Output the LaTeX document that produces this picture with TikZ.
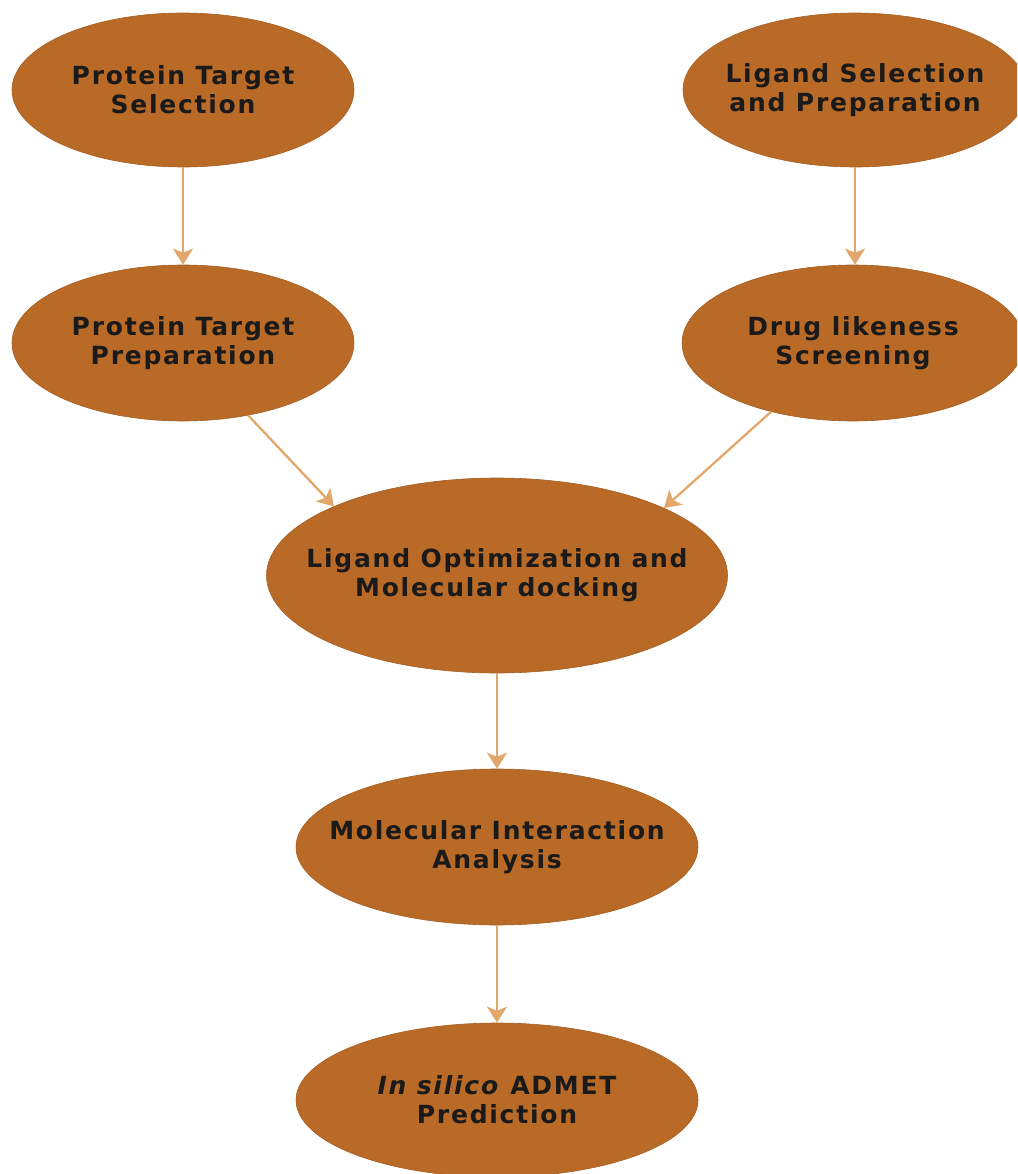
\documentclass[tikz,border=0pt]{standalone}
\usepackage{fontspec}
\setmainfont{DejaVu Sans}
\newfontfamily\labelfont[LetterSpace=7]{DejaVu Sans}
\usetikzlibrary{shapes.geometric,arrows.meta}
\definecolor{ellfill}{HTML}{B96A27}
\definecolor{arrcol}{HTML}{E2A76A}
\definecolor{txtcol}{HTML}{1A1A1A}
\tikzset{
  ell/.style={ellipse, fill=ellfill, draw=ellfill!90!black, line width=0.6pt, inner sep=0pt},
  txt/.style={align=center, text=txtcol, font=\labelfont\fontsize{25}{29}\selectfont\bfseries, inner sep=0pt},
  flow/.style={draw=arrcol, line width=2.3pt, -{Stealth[length=16pt,width=20pt,inset=4pt]}}
}
\begin{document}
\begin{tikzpicture}[x=1pt,y=-1pt]
\useasboundingbox (0,0) rectangle (1017,1174);
\begin{scope}
\clip (0,0) rectangle (1017,1174);
\node[ell, minimum width=342pt, minimum height=154pt] (pts) at (183,90) {};
\node[ell, minimum width=344pt, minimum height=154pt] (lsp) at (855,90) {};
\node[ell, minimum width=342pt, minimum height=156pt] (ptp) at (183,343) {};
\node[ell, minimum width=342pt, minimum height=156pt] (dls) at (853,343) {};
\node[ell, minimum width=461pt, minimum height=195pt] (lopt) at (497,575.5) {};
\node[ell, minimum width=402pt, minimum height=156pt] (mia) at (497,847) {};
\node[ell, minimum width=402pt, minimum height=154pt] (adm) at (497,1100) {};
\end{scope}

\node[txt] (pts-t) at (pts) {Protein Target\\Selection};
\node[txt] (lsp-t) at (lsp) {Ligand Selection\\and Preparation};
\node[txt] (ptp-t) at (ptp) {Protein Target\\Preparation};
\node[txt] (dls-t) at (dls) {Drug likeness\\Screening};
\node[txt] (lopt-t) at (lopt) {Ligand Optimization and\\Molecular docking};
\node[txt] (mia-t) at (mia) {Molecular Interaction\\Analysis};
\node[txt] (adm-t) at (adm) {\textit{In silico} ADMET\\Prediction};

\draw[flow] (pts.south) -- (ptp.north);
\draw[flow] (lsp.south) -- (lsp.south |- dls.north);
\draw[flow] (ptp.-48) -- (lopt.157.6);
\draw[flow] (dls.220) -- (lopt.22.4);
\draw[flow] (lopt.south) -- (mia.north);
\draw[flow] (mia.south) -- (adm.north);
\end{tikzpicture}
\end{document}
